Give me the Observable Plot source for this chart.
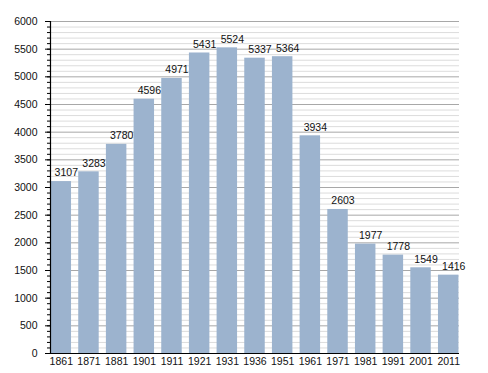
<!DOCTYPE html>
<html>
<head>
<meta charset="utf-8">
<script src="https://cdn.jsdelivr.net/npm/d3@7"></script>
<script src="https://cdn.jsdelivr.net/npm/@observablehq/plot@0.6"></script>
<style>
  html, body { margin: 0; padding: 0; background: #fff; }
  svg { display: block; }
</style>
</head>
<body>
<div id="chart"></div>
<script>
const years = ["1861","1871","1881","1901","1911","1921","1931","1936","1951","1961","1971","1981","1991","2001","2011"];
const population = [3107,3283,3780,4596,4971,5431,5524,5337,5364,3934,2603,1977,1778,1549,1416];
const majorTicks = [0,500,1000,1500,2000,2500,3000,3500,4000,4500,5000,5500,6000];
const minorTicks = d3.range(0, 6001, 100);

const data = years.map((y, i) => ({year: y, value: population[i]}));

const chart = Plot.plot({
  width: 488,
  height: 373,
  marginLeft: 50,
  marginRight: 29,
  marginTop: 21,
  marginBottom: 20,
  style: {fontFamily: "Liberation Sans, Arial, sans-serif", background: "#fff"},
  x: {domain: years, paddingInner: 0.26, paddingOuter: 0.02, round: false, label: null},
  y: {domain: [0, 6000], label: null},
  marks: [
    Plot.ruleY(minorTicks.filter(d => d % 500 !== 0), {stroke: "#dcdcdc", strokeWidth: 1}),
    Plot.ruleY(majorTicks, {stroke: "#a8a8a8", strokeWidth: 1}),
    Plot.barY(data, {x: "year", y: "value", fill: "#9cb3ce"}),
    Plot.text(data, {x: "year", y: "value", text: d => String(d.value), dx: 5, dy: -8.5, fontSize: 10.5, fill: "#111"}),
    Plot.axisY(minorTicks, {tickSize: 3, text: null, stroke: "#000"}),
    Plot.axisY(majorTicks, {tickSize: 5, tickPadding: 8, tickFormat: d => String(d), fontSize: 10.5, fill: "#111", stroke: "#000", label: null}),
    Plot.axisX({tickSize: 0, tickPadding: 4, fontSize: 10.5, fill: "#111", label: null}),
    Plot.ruleY([0], {stroke: "#000", strokeWidth: 1.2}),
    Plot.frame({anchor: "left", stroke: "#000", strokeWidth: 1.2})
  ]
});
document.getElementById("chart").appendChild(chart);
</script>
</body>
</html>
